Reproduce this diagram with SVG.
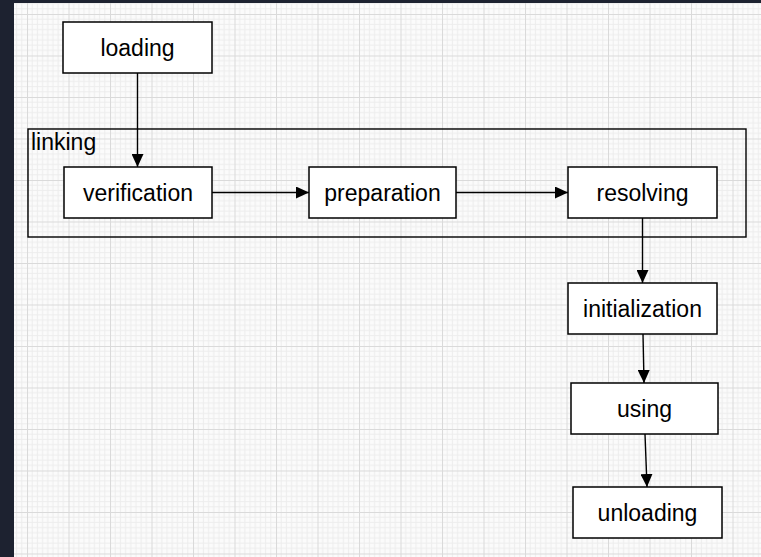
<svg xmlns="http://www.w3.org/2000/svg" width="761" height="557" viewBox="0 0 761 557">
  <style>
    .box { fill: #ffffff; stroke: #000000; stroke-width: 1.5; }
    .frame { fill: none; stroke: #000000; stroke-width: 1.4; }
    .label { font-family: "Liberation Sans", Arial, Helvetica, sans-serif; font-size: 23px; fill: #000000; text-anchor: middle; }
    .title { font-family: "Liberation Sans", Arial, Helvetica, sans-serif; font-size: 23px; fill: #000000; }
    .edge { fill: none; stroke: #000000; stroke-width: 1.4; }
  </style>
  <defs>
    <!-- fine and coarse drawing grid -->
    <pattern id="grid" patternUnits="userSpaceOnUse" x="27" y="14" width="41.5" height="41.5">
      <rect width="41.5" height="41.5" fill="#fbfbfb"/>
      <g stroke="#ededed" stroke-width="1">
        <path d="M5.19 0V41.5M10.38 0V41.5M15.56 0V41.5M20.75 0V41.5M25.94 0V41.5M31.13 0V41.5M36.31 0V41.5"/>
        <path d="M0 5.19H41.5M0 10.38H41.5M0 15.56H41.5M0 20.75H41.5M0 25.94H41.5M0 31.13H41.5M0 36.31H41.5"/>
      </g>
      <path d="M0.5 0V41.5M0 0.5H41.5" stroke="#dadada" stroke-width="1"/>
    </pattern>
    <marker id="arrow" markerUnits="userSpaceOnUse" markerWidth="14" markerHeight="12" viewBox="0 0 14 12" refX="13" refY="6" orient="auto">
      <path d="M0 0L13 6L0 12Z" fill="#000000"/>
    </marker>
  </defs>

  <!-- dark window edge and canvas -->
  <rect x="0" y="0" width="761" height="557" fill="#1d2230"/>
  <rect x="14" y="3" width="747" height="554" fill="url(#grid)"/>

  <!-- linking container -->
  <g id="linking">
    <rect class="frame" x="28" y="129" width="718" height="108"/>
    <text class="title" x="31" y="149.5">linking</text>
  </g>

  <!-- connectors -->
  <g id="connectors">
    <path class="edge" d="M137.5 73V167" marker-end="url(#arrow)"/>
    <path class="edge" d="M212 192.5H309" marker-end="url(#arrow)"/>
    <path class="edge" d="M456 192.5H568" marker-end="url(#arrow)"/>
    <path class="edge" d="M642.5 218V283" marker-end="url(#arrow)"/>
    <path class="edge" d="M643 334L644 383" marker-end="url(#arrow)"/>
    <path class="edge" d="M645 434L647 487" marker-end="url(#arrow)"/>
  </g>

  <g id="loading">
    <rect class="box" x="63" y="22" width="149" height="51"/>
    <text class="label" x="137.5" y="56">loading</text>
  </g>
  <g id="verification">
    <rect class="box" x="64" y="167" width="148" height="51"/>
    <text class="label" x="138" y="201">verification</text>
  </g>
  <g id="preparation">
    <rect class="box" x="309" y="167" width="147" height="51"/>
    <text class="label" x="382.5" y="201">preparation</text>
  </g>
  <g id="resolving">
    <rect class="box" x="568" y="167" width="149" height="51"/>
    <text class="label" x="642.5" y="201">resolving</text>
  </g>
  <g id="initialization">
    <rect class="box" x="568" y="283" width="149" height="51"/>
    <text class="label" x="642.5" y="317">initialization</text>
  </g>
  <g id="using">
    <rect class="box" x="571" y="383" width="147" height="51"/>
    <text class="label" x="644.5" y="417">using</text>
  </g>
  <g id="unloading">
    <rect class="box" x="573" y="487" width="149" height="51"/>
    <text class="label" x="647.5" y="521">unloading</text>
  </g>
</svg>
